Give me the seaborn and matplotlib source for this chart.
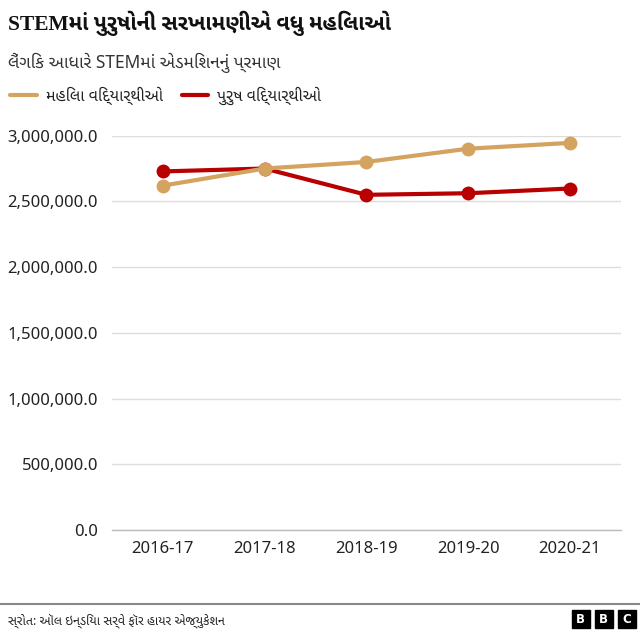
import matplotlib
matplotlib.use("Agg")
import matplotlib.pyplot as plt
from matplotlib.ticker import FuncFormatter
import pandas as pd
import seaborn as sns

years = ["2016-17", "2017-18", "2018-19", "2019-20", "2020-21"]
women = [2620000, 2750000, 2800000, 2901000, 2945000]
men = [2728000, 2750000, 2550000, 2562000, 2598000]

women_label = "મહિલા વિદ્યાર્થીઓ"
men_label = "પુરુષ વિદ્યાર્થીઓ"
title = "STEMમાં પુરુષોની સરખામણીએ વધુ મહિલાઓ"
subtitle = "લૈંગિક આધારે STEMમાં એડમિશનનું પ્રમાણ"
source = "સ્રોત: ઑલ ઇન્ડિયા સર્વે ફૉર હાયર એજ્યુકેશન"

women_color = "#d4a35f"
men_color = "#b80000"

df = pd.DataFrame({
    "year": years * 2,
    "value": women + men,
    "group": [women_label] * len(years) + [men_label] * len(years),
})

sns.set_theme(style="white")
plt.rcParams["font.family"] = ["Noto Sans", "Noto Sans Gujarati UI", "DejaVu Sans"]

fig = plt.figure(figsize=(6.4, 6.4), dpi=100)
ax = fig.add_axes([0.175, 0.172, 0.795, 0.616])

sns.lineplot(
    data=df, x="year", y="value", hue="group",
    palette={women_label: women_color, men_label: men_color},
    hue_order=[men_label, women_label],
    marker="o", markersize=10, markeredgewidth=0, linewidth=3,
    legend=False, ax=ax, clip_on=False,
)

ax.set_ylim(0, 3000000)
ax.set_xlim(-0.5, 4.5)
ax.set_yticks([0, 500000, 1000000, 1500000, 2000000, 2500000, 3000000])
ax.yaxis.set_major_formatter(FuncFormatter(lambda v, p: f"{v:,.1f}"))
ax.grid(axis="y", color="#dddddd", linewidth=1)
ax.set_axisbelow(True)
for s in ["top", "right", "left"]:
    ax.spines[s].set_visible(False)
ax.spines["bottom"].set_color("#bbbbbb")
ax.spines["bottom"].set_linewidth(1)
ax.set_xlabel("")
ax.set_ylabel("")
ax.tick_params(axis="y", labelsize=12, colors="#222222", length=0, pad=10)
ax.tick_params(axis="x", labelsize=12, colors="#222222", length=0, pad=8)

# titles
fig.text(0.013, 0.963, title, fontsize=15.5, fontweight="bold", color="#111111", va="center",
         family=["Liberation Serif", "Noto Sans Gujarati UI"])
fig.text(0.013, 0.902, subtitle, fontsize=12.5, color="#333333", va="center")

# legend
fig.lines.append(plt.Line2D([0.016, 0.058], [0.851, 0.851], color=women_color, lw=3, transform=fig.transFigure))
fig.text(0.072, 0.851, women_label, fontsize=11.5, color="#222222", va="center")
fig.lines.append(plt.Line2D([0.284, 0.325], [0.851, 0.851], color=men_color, lw=3, transform=fig.transFigure))
fig.text(0.339, 0.851, men_label, fontsize=11.5, color="#222222", va="center")

# footer
fig.lines.append(plt.Line2D([0, 1], [0.056, 0.056], color="#888888", lw=1.5, transform=fig.transFigure))
fig.text(0.013, 0.031, source, fontsize=9, color="#222222", va="center")
for i, letter in enumerate("BBC"):
    x0 = 0.893 + i * 0.036
    fig.patches.append(plt.Rectangle((x0, 0.018), 0.029, 0.029, color="black", transform=fig.transFigure))
    fig.text(x0 + 0.0145, 0.0325, letter, fontsize=8.5, fontweight="bold", color="white",
             ha="center", va="center", family=["DejaVu Sans"])

fig.savefig("out.png", dpi=100, facecolor="white")
